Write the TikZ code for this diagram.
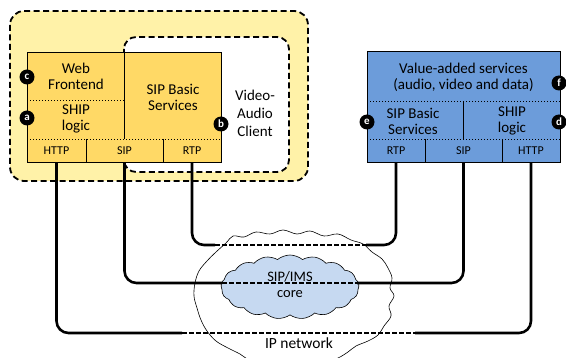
\documentclass[tikz,border=0pt]{standalone}
\usepackage{fontspec}
\setmainfont{Carlito}
\usetikzlibrary{shapes.symbols}
\definecolor{paleyellow}{HTML}{FFF2A8}
\definecolor{boxyellow}{HTML}{FFD966}
\definecolor{boxblue}{HTML}{6C9CDA}
\definecolor{coreblue}{HTML}{C6D9F1}
\tikzset{
  lbl/.style={align=center, inner sep=0pt, font=\fontsize{15}{16}\selectfont},
  port/.style={inner sep=0pt, font=\fontsize{12}{12}\selectfont},
  badge/.style={circle, fill=black, text=white, inner sep=0pt, minimum size=15pt,
    font=\fontsize{11}{11}\selectfont\bfseries},
  stack/.style={draw, line width=0.8pt, inner sep=0pt},
  sep/.style={line width=0.9pt, dash pattern=on 0.9pt off 2.1pt},
  area/.style={draw, line width=1.8pt, dash pattern=on 6pt off 3.5pt},
  link/.style={line width=2.6pt, rounded corners=12pt},
  tunnel/.style={line width=2.6pt, dash pattern=on 4.5pt off 2.5pt}
}
\begin{document}
\begin{tikzpicture}[x=1pt,y=-1pt]
\useasboundingbox (0,0) rectangle (566,358);

% client side
\path[area, fill=paleyellow, rounded corners=14pt] (10,11) rectangle (308,181);
\path[area, fill=white, rounded corners=12pt] (124,37) rectangle (289,172);
\node[lbl, font=\fontsize{15}{18}\selectfont] (vac) at (255,113) {Video-\\Audio\\Client};

\node[stack, fill=boxyellow, minimum width=194pt, minimum height=110pt] (ybox) at (124,107) {};
\draw[sep] (27,100) -- (124,100);
\draw[sep] (27,139) -- (221,139);
\draw[line width=0.8pt] (124,52) -- (124,139);
\draw[line width=0.8pt] (86,139) -- (86,162);
\draw[line width=0.8pt] (163,139) -- (163,162);
\node[lbl] (yweb) at (76,76) {Web\\Frontend};
\node[lbl] (yship) at (76,119) {SHIP\\logic};
\node[lbl] (ysip) at (173,97) {SIP Basic\\Services};
\node[port] (yhttp) at (56.5,150.5) {HTTP};
\node[port] (ysig) at (124.5,150.5) {SIP};
\node[port] (yrtp) at (192,150.5) {RTP};
\node[badge] (bc) at (27,77) {c};
\node[badge] (ba) at (27,118) {a};
\node[badge] (bb) at (221,124) {b};

% server side
\node[stack, fill=boxblue, minimum width=193pt, minimum height=111pt] (bbox) at (463.5,106.5) {};
\draw[sep] (367,101) -- (560,101);
\draw[sep] (367,139) -- (560,139);
\draw[line width=0.8pt] (463,101) -- (463,139);
\draw[line width=0.8pt] (425,139) -- (425,162);
\draw[line width=0.8pt] (502,139) -- (502,162);
\node[lbl] (vas) at (463.5,77) {Value-added services\\(audio, video and data)};
\node[lbl] (bsip) at (413,121) {SIP Basic\\Services};
\node[lbl] (bship) at (512,121) {SHIP\\logic};
\node[port] (brtp) at (396,150.5) {RTP};
\node[port] (bsig) at (463.5,150.5) {SIP};
\node[port] (bhttp) at (531,150.5) {HTTP};
\node[badge] (bf) at (559,83) {f};
\node[badge] (be) at (367,122) {e};
\node[badge] (bd) at (559,122) {d};

% networks
\draw[line width=0.6pt] plot[smooth cycle, tension=0.6] coordinates {
  (226,243) (233,236) (244,237) (256,232) (270,234) (283,230) (297,234)
  (310,231) (324,236) (338,234) (351,240) (363,244) (372,252) (382,259)
  (388,268) (392,278) (390,288) (394,296) (389,306) (391,316) (384,326)
  (378,335) (368,341) (356,346) (348,352) (338,358) (326,362) (300,364)
  (270,363) (250,360) (240,354) (228,348) (216,341) (207,331) (201,320)
  (197,308) (194,296) (195,283) (199,271) (207,261) (216,252)};
\node[cloud, cloud puffs=17, cloud puff arc=80, draw, line width=0.6pt, fill=coreblue,
  minimum width=138pt, minimum height=64pt, inner sep=0pt] (core) at (290,287) {};
\node[lbl, font=\fontsize{14.5}{16}\selectfont] (corelbl) at (290,285) {SIP/IMS\\core};
\node[lbl, font=\fontsize{15.5}{16}\selectfont] (iplbl) at (299,343) {IP network};

% media, signalling and web paths
\coordinate (rtpA) at (215,245);
\coordinate (rtpB) at (366,245);
\coordinate (sipA) at (222,283);
\coordinate (sipB) at (357,283);
\coordinate (httpA) at (182,333);
\coordinate (httpB) at (415,333);
\draw[link] (yrtp |- ybox.south) |- (rtpA);
\draw[tunnel] (rtpA) -- (rtpB);
\draw[link] (rtpB) -| (brtp |- bbox.south);
\draw[link] (ysig |- ybox.south) |- (sipA);
\draw[tunnel] (sipA) -- (sipB);
\draw[link] (sipB) -| (bsig |- bbox.south);
\draw[link] (yhttp |- ybox.south) |- (httpA);
\draw[tunnel] (httpA) -- (httpB);
\draw[link] (httpB) -| (bhttp |- bbox.south);
\end{tikzpicture}
\end{document}
